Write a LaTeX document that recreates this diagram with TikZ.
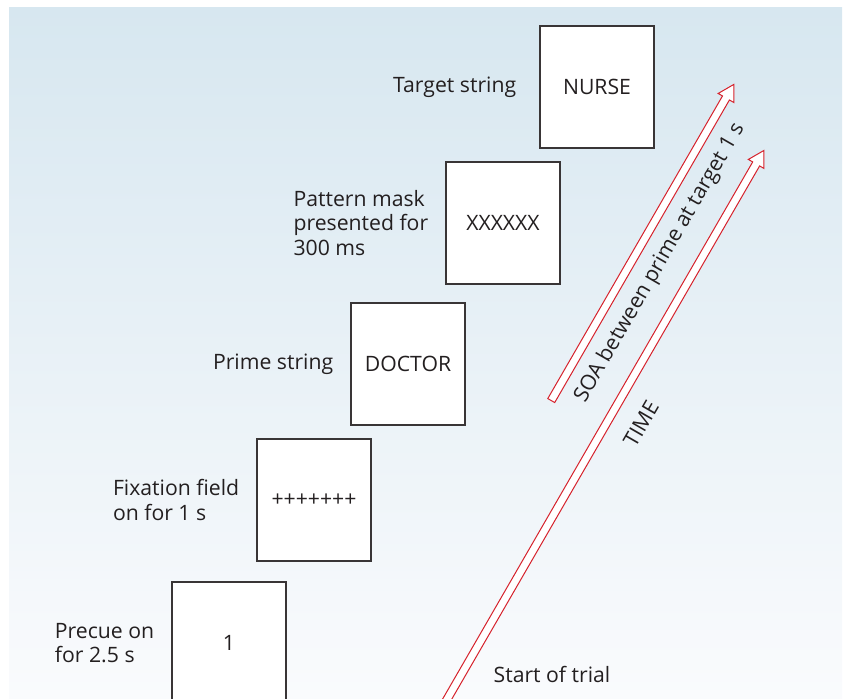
\documentclass[tikz,border=0pt]{standalone}
\usepackage{fontspec}
\setmainfont{Open Sans}
\usetikzlibrary{positioning,shapes.arrows}

\definecolor{trialred}{RGB}{214,34,44}
\definecolor{skytop}{RGB}{215,231,240}
\definecolor{skybottom}{RGB}{250,251,253}
\definecolor{ink}{RGB}{35,31,32}

\tikzset{
  screen/.style={draw=ink!90, line width=0.75pt, fill=white,
    minimum width=57pt, minimum height=61pt, inner sep=0pt},
  cue/.style={align=left},
  hollow/.style={single arrow, draw=trialred, fill=white, line width=0.5pt,
    inner xsep=0pt, inner ysep=1.75pt, single arrow head extend=2.5pt,
    single arrow tip angle=60, anchor=tail, rotate=60}
}

\begin{document}
\begin{tikzpicture}[x=0.5pt, y=-0.5pt,
  every node/.style={font=\fontsize{10.6}{12.3}\selectfont, text=ink}]
\useasboundingbox (0,0) rectangle (846,699);
\shade[top color=skytop, bottom color=skybottom] (9,8) rectangle (842,699);

% the five screens of one trial, each later one up and to the right
\foreach \nm/\x/\y/\txt in {precue/229/643/1, fixation/314/500/{+++++++},
    prime/408/364/DOCTOR, mask/503/223/XXXXXX, target/597/87/NURSE}
  \node[screen] (\nm) at (\x,\y) {\txt};

\node[cue, left=8pt of target] (targetcue) {Target string};
\node[cue, left=5pt of mask] (maskcue) {Pattern mask\\presented for\\300 ms};
\node[cue, left=5pt of prime] (primecue) {Prime string};
\node[cue, left=5pt of fixation] (fixationcue) {Fixation field\\on for 1 s};
\node[cue, left=5pt of precue] (precuecue) {Precue on\\for 2.5 s};

% time axes
\node[hollow, minimum height=182.5pt] (soa) at (551,401) {};
\node[hollow, minimum height=325.7pt] (time) at (438,715) {};
\node[rotate=60] (soalabel) at (660,263) {SOA between prime at target 1 s};
\node[rotate=60] (timelabel) at (641,424) {TIME};
\node (start) at (552,674) {Start of trial};
\end{tikzpicture}
\end{document}
